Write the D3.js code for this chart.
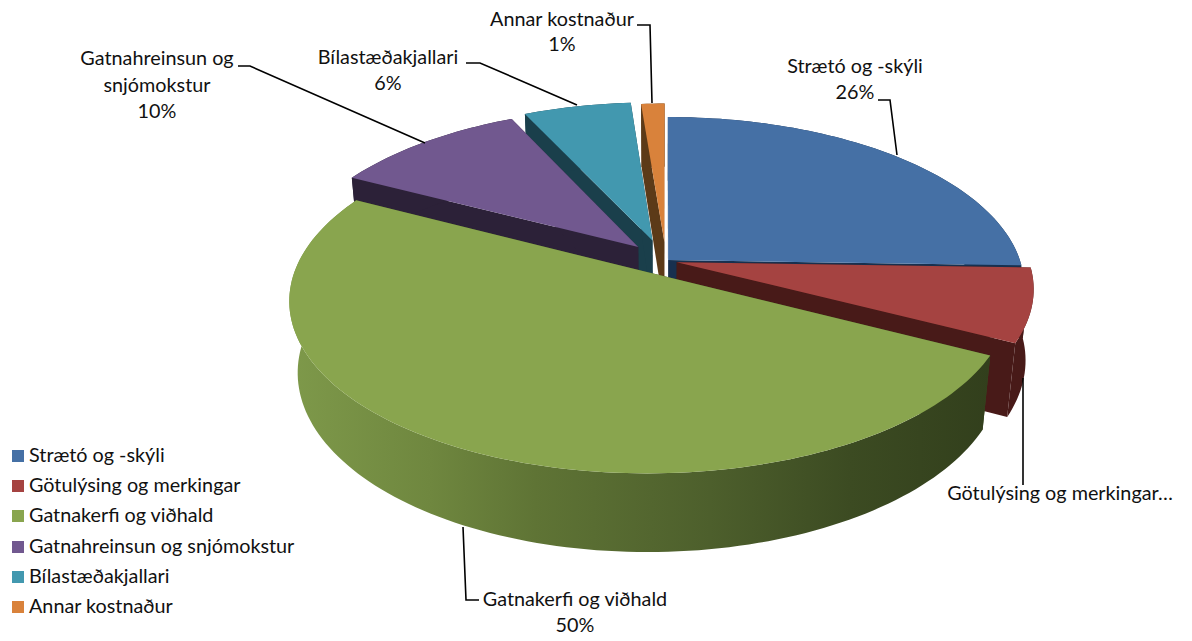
<!DOCTYPE html>
<html>
<head>
<meta charset="utf-8">
<script src="https://cdn.jsdelivr.net/npm/d3@7"></script>
<style>
    body { margin: 0; background: #fff; }
    text { font-family: Lato, "Open Sans", sans-serif; font-size: 19.8px; fill: #111; }
</style>
</head>
<body>
<script>
const width = 1192;
const height = 641;

const categories = ["Strætó og -skýli", "Götulýsing og merkingar", "Gatnakerfi og viðhald",
    "Gatnahreinsun og snjómokstur", "Bílastæðakjallari", "Annar kostnaður"];
const values = [25.5, 7, 50.1, 10.4, 5.75, 1.25];
const topColors = ["#4570a5", "#a54341", "#89a54e", "#71588f", "#4298af", "#d9823b"];
const sideColors = ["#17304f", "#481a18", "#3a4a20", "#2c2138", "#1a3f4b", "#5c3a18"];
// how far each slice is pulled out of the pie, in pixels
const explode = [3, 10, 28, 42, 46, 41];
// small sideways corrections per slice, the perspective model is only approximate
const nudgeX = [0, 1, -3, 1, -2, 0];

let svg = d3.select("body").append("svg")
    .attr("width", width)
    .attr("height", height);

// Perspective: plane coordinates (px to the right, py to the viewer), depth 0 top, 1 bottom
const cx = 666, cy = 261, R = 352, tilt = 0.47, persp = 0.155, shrink = 0.022, thick = 72;
function project(px, py, depth) {
    let s = 1 / (1 - persp * py / R + shrink * depth);
    return [cx + px * s, cy + (py * tilt + thick * depth) * s];
}

let pie = d3.pie().sort(null)(values);
// the pie has to be painted back to front
const drawOrder = [5, 4, 3, 0, 1, 2];
let line = d3.line();

let defs = svg.append("defs");
let wallGrad = defs.append("linearGradient")
    .attr("id", "greenWall")
    .attr("gradientUnits", "userSpaceOnUse")
    .attr("x1", 290).attr("x2", 990).attr("y1", 0).attr("y2", 0);
[[0, "#7e994a"], [0.2, "#6f873f"], [0.35, "#5f7435"], [0.6, "#4d5f2c"], [0.8, "#3c4b22"], [1, "#323f1c"]]
    .forEach(d => wallGrad.append("stop").attr("offset", d[0]).attr("stop-color", d[1]));

drawOrder.forEach(i => {
    let d = pie[i];
    let mid = (d.startAngle + d.endAngle) / 2;
    let ox = explode[i] * Math.sin(mid) + nudgeX[i];
    let oy = -explode[i] * Math.cos(mid);
    let point = (a, r, depth) => project(ox + r * Math.sin(a), oy - r * Math.cos(a), depth);

    let steps = d3.range(0, 1.0001, 1 / Math.max(4, Math.ceil((d.endAngle - d.startAngle) * 40)))
        .map(t => d.startAngle + t * (d.endAngle - d.startAngle));
    let g = svg.append("g");
    let side = sideColors[i];

    // the two cut faces
    [d.startAngle, d.endAngle].forEach(a => {
        g.append("path")
            .attr("d", line([point(a, 0, 0), point(a, R, 0), point(a, R, 1), point(a, 0, 1)]) + "Z")
            .attr("fill", side);
    });
    // the outer wall
    g.append("path")
        .attr("d", line(steps.map(a => point(a, R, 0)).concat(steps.slice().reverse().map(a => point(a, R, 1)))) + "Z")
        .attr("fill", i === 2 ? "url(#greenWall)" : side);
    // the top
    g.append("path")
        .attr("d", line([point(d.startAngle, 0, 0)].concat(steps.map(a => point(a, R, 0)))) + "Z")
        .attr("fill", topColors[i]);
});

// Legend
const legendY = [456, 486, 516, 547, 577, 607];
let legend = svg.append("g");
categories.forEach((c, i) => {
    legend.append("rect")
        .attr("x", 12).attr("y", legendY[i] - 6)
        .attr("width", 12).attr("height", 12)
        .attr("fill", topColors[i]);
    legend.append("text")
        .attr("x", 29).attr("y", legendY[i] + 6)
        .text(c);
});

// Data labels and their leader lines
const labelLines = [
    {x: 855, y: 73, t: "Strætó og -skýli"},
    {x: 855, y: 99, t: "26%"},
    {x: 562, y: 26, t: "Annar kostnaður"},
    {x: 562, y: 51, t: "1%"},
    {x: 388, y: 64, t: "Bílastæðakjallari"},
    {x: 388, y: 90, t: "6%"},
    {x: 157, y: 65, t: "Gatnahreinsun og"},
    {x: 157, y: 92, t: "snjómokstur"},
    {x: 157, y: 118, t: "10%"},
    {x: 1060, y: 500, t: "Götulýsing og merkingar…"},
    {x: 575, y: 606, t: "Gatnakerfi og viðhald"},
    {x: 575, y: 632, t: "50%"}
];
const leaders = [
    [[878, 100], [890, 100], [897, 155]],
    [[637, 25], [650, 25], [652, 103]],
    [[466, 63], [480, 63], [577, 105]],
    [[238, 66], [250, 66], [425, 143]],
    [[1023, 378], [1023, 485]],
    [[463, 527], [466, 600], [479, 600]]
];

svg.selectAll(".leader")
    .data(leaders)
    .join("path")
    .attr("class", "leader")
    .attr("d", d => line(d))
    .attr("fill", "none")
    .attr("stroke", "#000")
    .attr("stroke-width", 1.6);

svg.selectAll(".label")
    .data(labelLines)
    .join("text")
    .attr("class", "label")
    .attr("x", d => d.x)
    .attr("y", d => d.y)
    .attr("text-anchor", "middle")
    .text(d => d.t);
</script>
</body>
</html>
